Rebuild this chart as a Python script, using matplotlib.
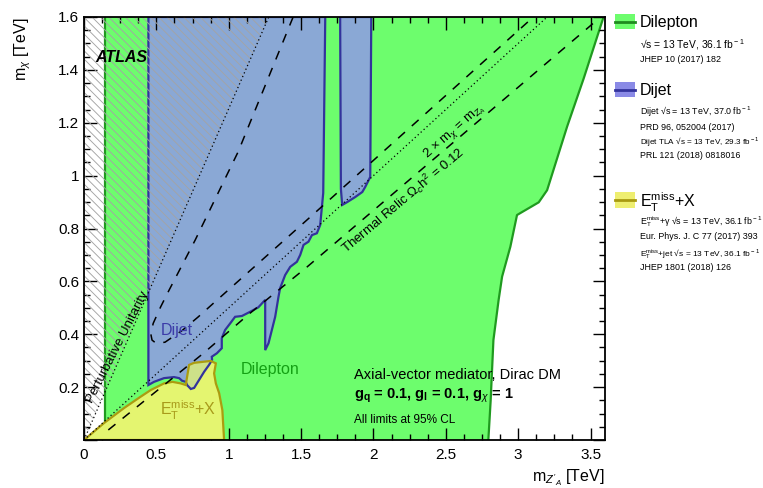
import numpy as np
import matplotlib
matplotlib.use("Agg")
import matplotlib.pyplot as plt
from matplotlib.patches import Polygon, Rectangle
from matplotlib.lines import Line2D
from matplotlib.ticker import MultipleLocator, FuncFormatter

plt.rcParams['font.family'] = ['Liberation Sans', 'DejaVu Sans']
plt.rcParams['mathtext.fontset'] = 'custom'
plt.rcParams['mathtext.rm'] = 'Liberation Sans'
plt.rcParams['mathtext.it'] = 'Liberation Sans:italic'
plt.rcParams['mathtext.bf'] = 'Liberation Sans:bold'
plt.rcParams['hatch.linewidth'] = 0.65

# ---------------- data (TeV) ----------------
# Dilepton excluded region: left edge and right boundary
dilep_left = 0.145
dilep_right_mz = [3.59, 3.453, 3.338, 3.20, 3.142, 2.992, 2.946, 2.889, 2.865, 2.829, 2.81, 2.794]
dilep_right_mchi = [1.6, 1.368, 1.185, 0.945, 0.899, 0.851, 0.731, 0.618, 0.53, 0.378, 0.15, 0.0]

# Dijet excluded region (main)
dijet1_mz = [0.445, 0.445, 0.484, 0.553, 0.622, 0.657, 0.678, 0.703, 0.712, 0.738, 0.761, 0.795,
             0.830, 0.864, 0.885, 0.883, 0.918, 0.952, 0.952, 0.975, 1.010, 1.044, 1.091, 1.148,
             1.205, 1.252, 1.252, 1.275, 1.298, 1.321, 1.344, 1.355, 1.390, 1.425, 1.471, 1.494,
             1.517, 1.551, 1.575, 1.609, 1.632, 1.653, 1.667]
dijet1_mchi = [1.6, 0.208, 0.220, 0.234, 0.238, 0.234, 0.224, 0.220, 0.208, 0.193, 0.197, 0.227,
               0.258, 0.284, 0.303, 0.315, 0.328, 0.347, 0.385, 0.416, 0.441, 0.466, 0.469, 0.485,
               0.502, 0.530, 0.340, 0.366, 0.416, 0.466, 0.542, 0.574, 0.624, 0.655, 0.674, 0.700,
               0.738, 0.750, 0.775, 0.782, 0.813, 0.934, 1.6]
# Dijet excluded region (second strip)
dijet2_mz = [1.770, 1.775, 1.784, 1.819, 1.874, 1.923, 1.943, 1.978, 1.985]
dijet2_mchi = [1.6, 0.95, 0.889, 0.900, 0.919, 0.938, 0.957, 0.995, 1.6]

# ETmiss+X excluded region
etmiss_mz = [0.0, 0.138, 0.277, 0.392, 0.461, 0.553, 0.611, 0.669, 0.703, 0.726, 0.761, 0.876,
             0.911, 0.899, 0.911, 0.934, 0.956, 0.968]
etmiss_mchi = [0.0, 0.064, 0.121, 0.164, 0.189, 0.214, 0.220, 0.214, 0.208, 0.284, 0.292, 0.299,
               0.290, 0.252, 0.214, 0.177, 0.113, 0.0]

# Thermal relic curves
relic_a_mz = [1.445, 1.065, 0.768, 0.588, 0.530, 0.478, 0.462, 0.470, 0.500, 0.560, 0.680, 0.790,
              0.906, 1.540, 3.105]
relic_a_mchi = [1.6, 1.09, 0.756, 0.567, 0.504, 0.441, 0.400, 0.378, 0.365, 0.370, 0.415, 0.466,
                0.523, 0.832, 1.6]
relic_b_mz = [0.168, 0.825, 1.148, 1.54, 3.57]
relic_b_mchi = [0.038, 0.328, 0.48, 0.654, 1.6]

# Reference lines
unitarity_slope = np.sqrt(np.pi / 2)   # m_chi = sqrt(pi/2) m_Z'
onshell_slope = 0.5                    # 2 m_chi = m_Z'

xmax, ymax = 3.6, 1.6

# ---------------- figure ----------------
fig = plt.figure(figsize=(7.63, 4.88), dpi=100)
ax = fig.add_axes([84/763, 48/488, 521/763, 423/488])
ax.set_xlim(0, xmax)
ax.set_ylim(0, ymax)

green = '#6dfd6d'
green_edge = '#1f9a1f'
blue = '#8aa8d5'
blue_edge = '#33339c'
yellow = '#e4f570'
yellow_edge = '#ab9c10'

# Dilepton
dl_poly = list(zip([dilep_left, dilep_left] + dilep_right_mz, [0.0, ymax] + dilep_right_mchi))
ax.add_patch(Polygon(dl_poly, closed=True, facecolor=green, edgecolor='none', zorder=1))
ax.plot([dilep_left, dilep_left], [0, ymax], color=green_edge, lw=1.6, zorder=2)
ax.plot(dilep_right_mz, dilep_right_mchi, color=green_edge, lw=1.6, zorder=2)

# Dijet
p1 = Polygon(list(zip(dijet1_mz, dijet1_mchi)), closed=True, facecolor=blue,
             edgecolor=blue_edge, lw=1.6, zorder=2)
p2 = Polygon(list(zip(dijet2_mz, dijet2_mchi)), closed=True, facecolor=blue,
             edgecolor=blue_edge, lw=1.6, zorder=2)
ax.add_patch(p1)
ax.add_patch(p2)

# ETmiss+X
py = Polygon(list(zip(etmiss_mz, etmiss_mchi)), closed=True, facecolor=yellow,
             edgecolor='none', zorder=3)
ax.add_patch(py)
ov = Polygon(list(zip(dijet1_mz, dijet1_mchi)), closed=True, facecolor=blue, alpha=0.25,
             edgecolor='none', zorder=3.2)
ax.add_patch(ov)
ov.set_clip_path(py)
ov_edge = Polygon(list(zip(dijet1_mz, dijet1_mchi)), closed=True, facecolor='none',
                  edgecolor=blue_edge, lw=1.6, zorder=3.3)
ax.add_patch(ov_edge)
ov_edge.set_clip_path(py)
ax.add_patch(Polygon(list(zip(etmiss_mz, etmiss_mchi)), closed=True, facecolor='none',
                     edgecolor=yellow_edge, lw=1.6, zorder=3.4))

# Perturbative unitarity hatch
xu = ymax / unitarity_slope
ax.add_patch(Polygon([(0, 0), (xu, ymax), (0, ymax)], closed=True, facecolor='none',
                     edgecolor='#a4a4a4', hatch='\\\\\\\\', lw=0, zorder=4))
xx = np.array([0, xmax])
ax.plot(xx, unitarity_slope * xx, color='black', lw=0.9, ls=(0, (1, 2.2)), zorder=5)
ax.plot(xx, onshell_slope * xx, color='black', lw=0.9, ls=(0, (1, 2.2)), zorder=5)

# Relic lines
ax.plot(relic_a_mz, relic_a_mchi, color='black', lw=1.1, ls=(0, (6, 6)), zorder=5)
ax.plot(relic_b_mz, relic_b_mchi, color='black', lw=1.1, ls=(0, (6, 6)), zorder=5)

# ---------------- axes styling ----------------
for s in ax.spines.values():
    s.set_linewidth(1.3)
    s.set_zorder(10)
ax.xaxis.set_major_locator(MultipleLocator(0.5))
ax.xaxis.set_minor_locator(MultipleLocator(0.125))
ax.yaxis.set_major_locator(MultipleLocator(0.2))
ax.yaxis.set_minor_locator(MultipleLocator(0.05))
ax.tick_params(which='both', direction='in', top=True, right=True, labelsize=11, width=1.0)
ax.tick_params(which='major', length=9)
ax.tick_params(which='minor', length=4.5)
ax.tick_params(axis='x', pad=6)
ax.xaxis.set_major_formatter(FuncFormatter(lambda v, p: '%g' % round(v, 3)))
ax.yaxis.set_major_formatter(FuncFormatter(lambda v, p: '' if abs(v) < 1e-9 else '%g' % round(v, 3)))
ax.set_axisbelow(False)

ax.set_ylabel(r'm$_{\chi}$ [TeV]', fontsize=11.5, loc='top', labelpad=18)
ax.set_xlabel(r"m$_{Z'_{A}}$ [TeV]", fontsize=11.5, loc='right', labelpad=4)

# ---------------- in-plot text ----------------
ax.text(0.075, 1.43, 'ATLAS', fontsize=11.5, fontweight='bold', fontstyle='italic', zorder=7)
ax.text(0.235, 0.350, 'Perturbative Unitarity', fontsize=9.5, rotation=63,
        ha='center', va='center', zorder=7, rotation_mode='anchor')
ax.text(0.643, 0.416, 'Dijet', fontsize=11.5, color='#3c3ca8', ha='center', va='center', zorder=7)
ax.text(0.72, 0.113, r'E$_{\rm T}^{\rm miss}$+X', fontsize=11.5, color='#a89a1a',
        ha='center', va='center', zorder=7)
ax.text(1.286, 0.265, 'Dilepton', fontsize=11.5, color='#14a014', ha='center', va='center', zorder=7)
ax.text(2.56, 1.17, r"2 $\times$ m$_{\chi}$ = m$_{Z_{A}}$", fontsize=9.5, rotation=41.5,
        ha='center', va='center', rotation_mode='anchor', zorder=7)
ax.text(2.206, 0.908, r'Thermal Relic $\Omega_c$h$^2$ = 0.12', fontsize=9.5, rotation=40,
        ha='center', va='center', rotation_mode='anchor', zorder=7)

fig.text(354/763, 1 - 375/488, 'Axial-vector mediator, Dirac DM', fontsize=10.5, va='center')
fig.text(354/763, 1 - 396/488,
         r'g$_{\mathbf{q}}$ = 0.1, g$_{\mathbf{l}}$ = 0.1, g$_{\chi}$ = 1',
         fontsize=10.5, fontweight='bold', va='center')
fig.text(354/763, 1 - 420/488, 'All limits at 95% CL', fontsize=8.5, va='center')

# ---------------- legend (outside) ----------------
def fx(px):
    return px / 763

def fy(py_):
    return 1 - py_ / 488

def swatch(y0, y1, face, line):
    fig.patches.append(Rectangle((fx(615), fy(y1)), fx(635) - fx(615), fy(y0) - fy(y1),
                                 transform=fig.transFigure, facecolor=face, edgecolor='none'))
    ym = fy((y0 + y1) / 2)
    fig.lines.append(Line2D([fx(615), fx(635)], [ym, ym], transform=fig.transFigure,
                            color=line, lw=2))

swatch(14, 29, '#6dfd6d', '#1f8a1f')
swatch(82, 97, '#8a8ae6', '#33339c')
swatch(192, 208, '#eeee70', '#a89a10')

lx = fx(640)
small = 6.4
fig.text(lx, fy(22), 'Dilepton', fontsize=11.5, va='center')
fig.text(lx, fy(45), '√s = 13 TeV, 36.1 fb$^{\\rm -1}$', fontsize=7.4, va='center')
fig.text(lx, fy(60), 'JHEP 10 (2017) 182', fontsize=small, va='center')
fig.text(lx, fy(90), 'Dijet', fontsize=11.5, va='center')
fig.text(lx, fy(111), 'Dijet √s = 13 TeV, 37.0 fb$^{\\rm -1}$', fontsize=small, va='center')
fig.text(lx, fy(127), 'PRD 96, 052004 (2017)', fontsize=small, va='center')
fig.text(lx, fy(141), 'Dijet TLA √s = 13 TeV, 29.3 fb$^{\\rm -1}$', fontsize=5.9, va='center')
fig.text(lx, fy(156), 'PRL 121 (2018) 0818016', fontsize=small, va='center')
fig.text(lx, fy(202), r'E$_{\rm T}^{\rm miss}$+X', fontsize=11.5, va='center')
fig.text(lx, fy(222), 'E$_{\\rm T}^{\\rm miss}$+γ √s = 13 TeV, 36.1 fb$^{\\rm -1}$',
         fontsize=small, va='center')
fig.text(lx, fy(237), 'Eur. Phys. J. C 77 (2017) 393', fontsize=small, va='center')
fig.text(lx, fy(253), 'E$_{\\rm T}^{\\rm miss}$+jet √s = 13 TeV, 36.1 fb$^{\\rm -1}$',
         fontsize=6.0, va='center')
fig.text(lx, fy(268), 'JHEP 1801 (2018) 126', fontsize=small, va='center')

fig.savefig('out.png', dpi=100)
